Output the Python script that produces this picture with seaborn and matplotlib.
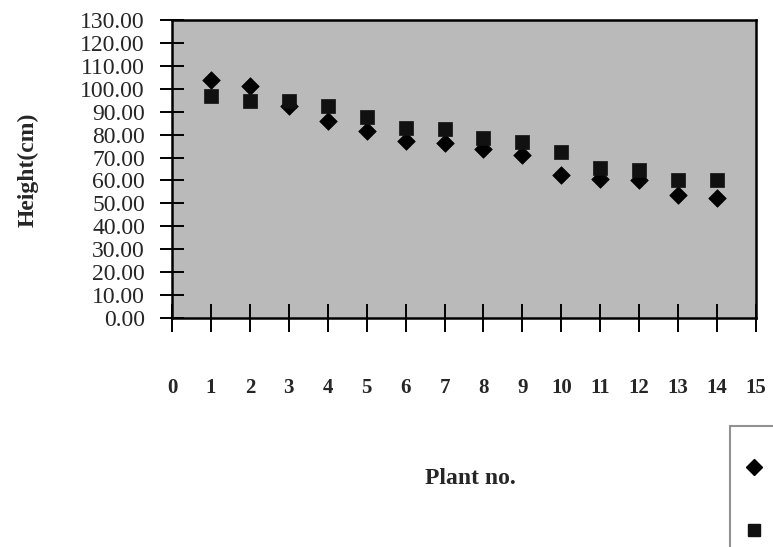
import matplotlib
matplotlib.use("Agg")
import matplotlib.pyplot as plt
import seaborn as sns
import pandas as pd
from matplotlib.lines import Line2D
from matplotlib.ticker import FormatStrFormatter

plant_no = list(range(1, 15))
series1 = [104.0, 101.2, 92.5, 86.0, 81.7, 77.0, 76.2, 73.6, 71.1, 62.4, 60.5, 60.0, 53.5, 52.5]
series2 = [96.9, 94.5, 94.8, 92.5, 87.6, 83.0, 82.5, 78.4, 76.9, 72.3, 65.3, 64.6, 60.2, 60.0]
x_ticks = list(range(0, 16))
y_ticks = list(range(0, 131, 10))

df = pd.DataFrame({
    "plant": plant_no * 2,
    "height": series1 + series2,
    "series": ["Series 1"] * 14 + ["Series 2"] * 14,
})

sns.set_theme(style="white")
plt.rcParams["font.family"] = ["Liberation Serif", "DejaVu Serif"]

fig = plt.figure(figsize=(7.73, 5.47), dpi=100)
ax = fig.add_axes([172 / 773, 1 - 318 / 547, (756 - 172) / 773, (318 - 20) / 547])
ax.set_facecolor("#bababa")

sns.scatterplot(data=df[df.series == "Series 1"], x="plant", y="height", marker="D",
                color="black", s=80, edgecolor="black", linewidth=0.5, ax=ax, legend=False, zorder=3)
sns.scatterplot(data=df[df.series == "Series 2"], x="plant", y="height", marker="s",
                color="#111111", s=95, edgecolor="#111111", linewidth=0.5, ax=ax, legend=False, zorder=3)

ax.set_xlim(0, 15)
ax.set_ylim(0, 130)
ax.set_xticks(x_ticks)
ax.set_yticks(y_ticks)
ax.yaxis.set_major_formatter(FormatStrFormatter("%.2f"))
ax.tick_params(axis="x", direction="inout", length=20, width=1.4, color="black",
               labelsize=15, pad=33, bottom=True)
ax.tick_params(axis="y", direction="inout", length=17, width=1.4, color="black",
               labelsize=17, pad=11, left=True)
for lab in ax.get_xticklabels():
    lab.set_fontweight("bold")
for s in ax.spines.values():
    s.set_color("black")
    s.set_linewidth(1.8)
ax.set_xlabel("")
ax.set_ylabel("")

fig.text(470 / 773, 1 - 478 / 547, "Plant no.", ha="center", va="center",
         fontsize=17, fontweight="bold")
fig.text(28 / 773, 1 - 170 / 547, "Height(cm)", ha="center", va="center",
         fontsize=17, fontweight="bold", rotation=90)

handles = [
    Line2D([], [], marker="D", color="black", linestyle="none", markersize=8),
    Line2D([], [], marker="s", color="#111111", linestyle="none", markersize=9),
]
leg = fig.legend(handles, ["          \n ", "          \n "], loc="upper left",
                 bbox_to_anchor=(730 / 773, 1 - 426 / 547), bbox_transform=fig.transFigure,
                 frameon=True, fancybox=False, edgecolor="#777777", fontsize=20,
                 labelspacing=0.35, handlelength=0.7, handletextpad=0.5,
                 borderpad=0.5, borderaxespad=0)
leg.get_frame().set_linewidth(1.5)

fig.savefig("out.png", dpi=100)
